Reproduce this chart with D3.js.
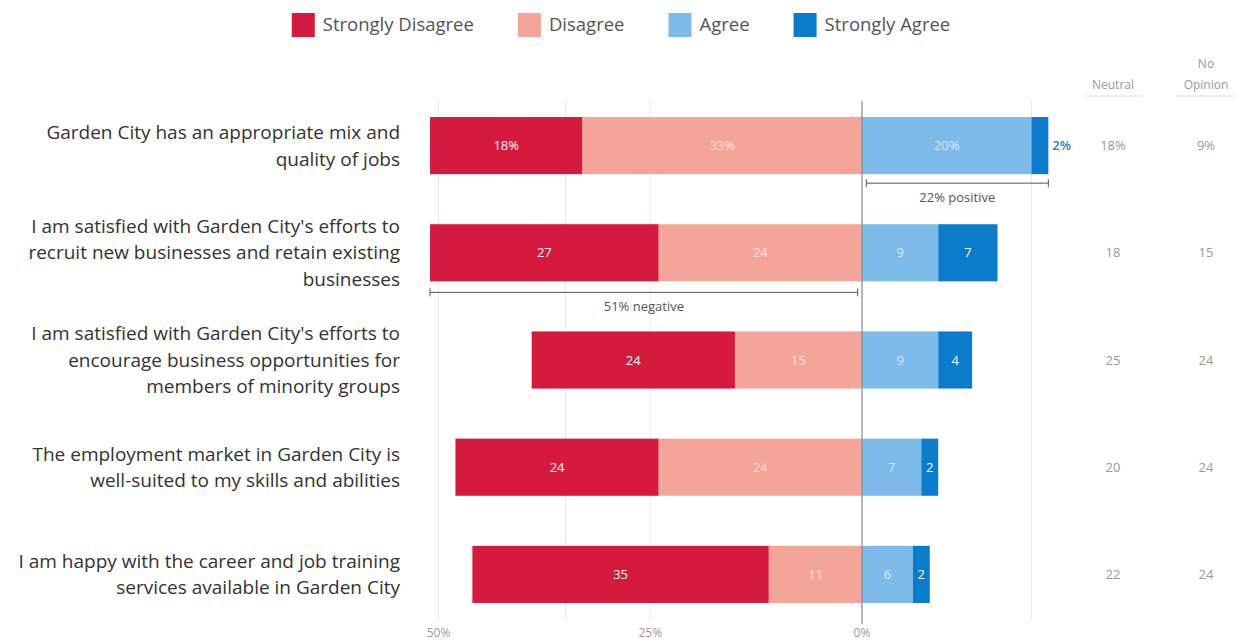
<!DOCTYPE html>
<html>
<head>
<meta charset="utf-8">
<script src="https://cdn.jsdelivr.net/npm/d3@7"></script>
<style>
  html, body { margin: 0; padding: 0; background: #fff; }
  svg { display: block; }
  text { font-family: "Open Sans", "Noto Sans", sans-serif; }
</style>
</head>
<body>
<svg id="chart" width="1245" height="644"></svg>
<script>
// Survey statements (one array entry per wrapped line)
const questions = [
  ["Garden City has an appropriate mix and", "quality of jobs"],
  ["I am satisfied with Garden City's efforts to", "recruit new businesses and retain existing", "businesses"],
  ["I am satisfied with Garden City's efforts to", "encourage business opportunities for", "members of minority groups"],
  ["The employment market in Garden City is", "well-suited to my skills and abilities"],
  ["I am happy with the career and job training", "services available in Garden City"]
];

// Response shares, in percent
const stronglyDisagree = [18, 27, 24, 24, 35];
const disagree         = [33, 24, 15, 24, 11];
const agree            = [20, 9, 9, 7, 6];
const stronglyAgree    = [2, 7, 4, 2, 2];
const neutral          = [18, 18, 25, 20, 22];
const noOpinion        = [9, 15, 24, 24, 24];

const legendLabels = ["Strongly Disagree", "Disagree", "Agree", "Strongly Agree"];
const tickValues = [-50, -25, 0];
const tickLabels = ["50%", "25%", "0%"];
const gridValues = [-50, -35, -25, 20];

const colors = {
  sd: "#d51a3e",
  d: "#f2a598",
  a: "#7dbbea",
  sa: "#0b7ccc"
};

const svg = d3.select("#chart");

const x = d3.scaleLinear().domain([-50, 20]).range([438.5, 1031.4]);
const y = d3.scaleBand()
  .domain(d3.range(questions.length))
  .range([92, 628])
  .paddingInner(0.467)
  .paddingOuter(0.2335);

// Light gridlines
svg.append("g").selectAll("line")
  .data(gridValues)
  .join("line")
  .attr("x1", d => x(d)).attr("x2", d => x(d))
  .attr("y1", 100).attr("y2", 620)
  .attr("stroke", "#e8e8e8")
  .attr("stroke-width", 1);

// Stacked segments per row
const rows = questions.map((q, i) => {
  const sd = stronglyDisagree[i], d = disagree[i], a = agree[i], sa = stronglyAgree[i];
  return {
    i,
    segs: [
      { key: "sd", x0: -(sd + d), x1: -d, v: sd },
      { key: "d",  x0: -d, x1: 0, v: d },
      { key: "a",  x0: 0, x1: a, v: a },
      { key: "sa", x0: a, x1: a + sa, v: sa }
    ]
  };
});

const rowG = svg.append("g").selectAll("g")
  .data(rows)
  .join("g")
  .attr("transform", d => `translate(0,${y(d.i)})`);

rowG.selectAll("rect")
  .data(d => d.segs.map(s => ({ ...s, row: d.i })))
  .join("rect")
  .attr("x", s => x(s.x0))
  .attr("width", s => x(s.x1) - x(s.x0))
  .attr("y", 0)
  .attr("height", y.bandwidth())
  .attr("fill", s => colors[s.key]);

// Value labels inside segments (first row carries the % sign)
rowG.selectAll("text.val")
  .data(d => d.segs.map(s => ({ ...s, row: d.i })).filter(s => !(s.row === 0 && s.key === "sa")))
  .join("text")
  .attr("class", "val")
  .attr("x", s => (x(s.x0) + x(s.x1)) / 2)
  .attr("y", y.bandwidth() / 2)
  .attr("dy", "0.35em")
  .attr("text-anchor", "middle")
  .attr("font-size", 13)
  .attr("fill", s => (s.key === "d" || s.key === "a") ? "rgba(255,255,255,0.7)" : "#fff")
  .text(s => s.row === 0 ? s.v + "%" : s.v);

// Small strongly-agree share on the first row sits outside the bar
svg.append("text")
  .attr("x", x(agree[0] + stronglyAgree[0]) + 4)
  .attr("y", y(0) + y.bandwidth() / 2)
  .attr("dy", "0.35em")
  .attr("font-size", 13)
  .attr("font-weight", 600)
  .attr("fill", "#2a7fc6")
  .text(stronglyAgree[0] + "%");

// Zero line
svg.append("line")
  .attr("x1", x(0)).attr("x2", x(0))
  .attr("y1", 101).attr("y2", 624)
  .attr("stroke", "#8a8a8a")
  .attr("stroke-width", 1.2);

// Axis tick labels
svg.append("g").selectAll("text")
  .data(tickValues)
  .join("text")
  .attr("x", d => x(d))
  .attr("y", 637)
  .attr("text-anchor", "middle")
  .attr("font-size", 12)
  .attr("fill", "#9a9a9a")
  .text((d, i) => tickLabels[i]);

// Question labels
const labelG = svg.append("g");
questions.forEach((lines, i) => {
  const cy = y(i) + y.bandwidth() / 2;
  const lh = 26.5;
  const t = labelG.append("text")
    .attr("text-anchor", "end")
    .attr("font-size", 19)
    .attr("fill", "#333");
  lines.forEach((ln, k) => {
    t.append("tspan")
      .attr("x", 400)
      .attr("y", cy + (k - (lines.length - 1) / 2) * lh)
      .attr("dy", "0.35em")
      .text(ln);
  });
});

// Bracket annotations
function bracket(v0, v1, yy, label) {
  const g = svg.append("g");
  const x0 = x(v0), x1 = x(v1);
  g.append("line").attr("x1", x0).attr("x2", x1).attr("y1", yy).attr("y2", yy)
    .attr("stroke", "#555").attr("stroke-width", 1);
  [x0, x1].forEach(xx => g.append("line")
    .attr("x1", xx).attr("x2", xx).attr("y1", yy - 4).attr("y2", yy + 4)
    .attr("stroke", "#555").attr("stroke-width", 1));
  g.append("text")
    .attr("x", (x0 + x1) / 2)
    .attr("y", yy + 19)
    .attr("text-anchor", "middle")
    .attr("font-size", 13)
    .attr("fill", "#555")
    .text(label);
}
const pos0 = agree[0] + stronglyAgree[0];
const neg1 = stronglyDisagree[1] + disagree[1];
bracket(0.5, pos0, y(0) + y.bandwidth() + 9, pos0 + "% positive");
bracket(-neg1, -0.5, y(1) + y.bandwidth() + 11, neg1 + "% negative");

// Neutral / No Opinion columns
const colNeutral = 1113, colNoOp = 1206;
const hdr = svg.append("g").attr("font-size", 12).attr("fill", "#999");
hdr.append("text").attr("x", colNeutral).attr("y", 89).attr("text-anchor", "middle").text("Neutral");
hdr.append("text").attr("x", colNoOp).attr("y", 68).attr("text-anchor", "middle").text("No");
hdr.append("text").attr("x", colNoOp).attr("y", 89).attr("text-anchor", "middle").text("Opinion");
[[colNeutral, 58], [colNoOp, 60]].forEach(([cx, w]) =>
  svg.append("line").attr("x1", cx - w / 2).attr("x2", cx + w / 2)
    .attr("y1", 96).attr("y2", 96).attr("stroke", "#ddd"));

const colG = svg.append("g");
colG.selectAll("text.neu")
  .data(neutral)
  .join("text").attr("class", "neu")
  .attr("x", colNeutral)
  .attr("y", (d, i) => y(i) + y.bandwidth() / 2)
  .attr("dy", "0.35em")
  .attr("text-anchor", "middle")
  .attr("font-size", 13)
  .attr("fill", "#999")
  .text((d, i) => i === 0 ? d + "%" : d);
colG.selectAll("text.noop")
  .data(noOpinion)
  .join("text").attr("class", "noop")
  .attr("x", colNoOp)
  .attr("y", (d, i) => y(i) + y.bandwidth() / 2)
  .attr("dy", "0.35em")
  .attr("text-anchor", "middle")
  .attr("font-size", 13)
  .attr("fill", "#999")
  .text((d, i) => i === 0 ? d + "%" : d);

// Legend, centred above the chart
const legend = svg.append("g");
const legendColors = [colors.sd, colors.d, colors.a, colors.sa];
let lx = 0;
legendLabels.forEach((lbl, i) => {
  const g = legend.append("g");
  g.append("rect").attr("x", 0).attr("y", -12).attr("width", 23).attr("height", 24)
    .attr("fill", legendColors[i]);
  const t = g.append("text").attr("x", 31).attr("y", 0).attr("dy", "0.35em")
    .attr("font-size", 18.5).attr("fill", "#555").text(lbl);
  const w = 31 + t.node().getComputedTextLength();
  g.attr("transform", `translate(${lx},25)`);
  lx += w + 44;
});
const totalW = lx - 44;
legend.attr("transform", `translate(${621 - totalW / 2},0)`);
</script>
</body>
</html>
